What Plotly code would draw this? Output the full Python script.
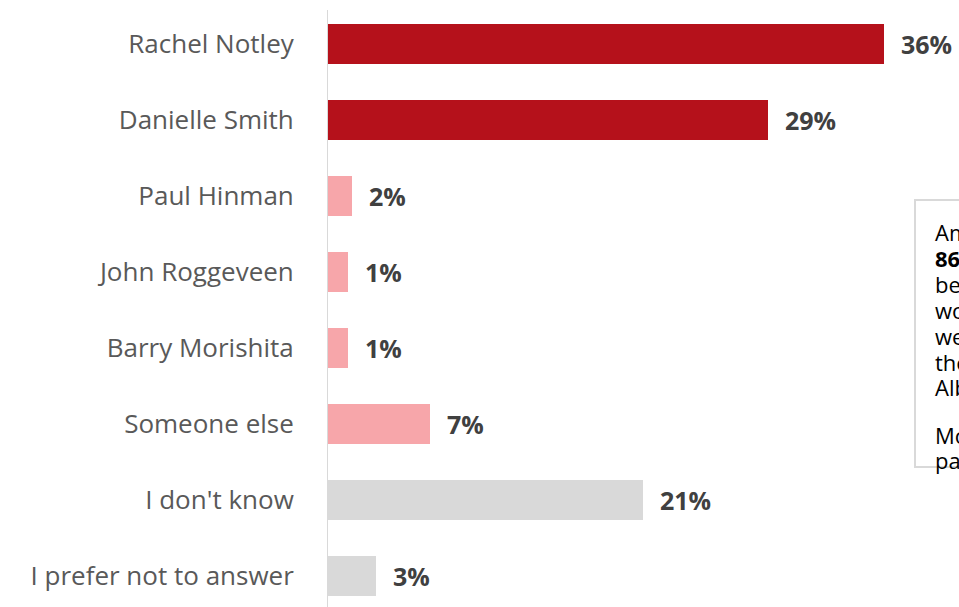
import plotly.graph_objects as go

categories = ["Rachel Notley", "Danielle Smith", "Paul Hinman", "John Roggeveen",
              "Barry Morishita", "Someone else", "I don't know", "I prefer not to answer"]
values = [36.3, 28.7, 1.6, 1.4, 1.4, 6.7, 20.6, 3.2]
labels = ["36%", "29%", "2%", "1%", "1%", "7%", "21%", "3%"]
colors = ["#B5111B", "#B5111B", "#F7A6AA", "#F7A6AA", "#F7A6AA", "#F7A6AA", "#D9D9D9", "#D9D9D9"]

note_lines = ["Among decided voters,", "<b>86%</b> say they", "believe the choice", "would be between",
              "well-known leaders of", "the two main parties in", "Alberta.", "",
              "Most respondents", "pay close attention."]
note_line_y = [232, 258, 284, 310, 336, 362, 387, 411, 435, 460]

W, H = 959, 607
ML, MR, MT, MB = 327, 0, 10, 0
pw, ph = W - ML - MR, H - MT - MB
px_per_unit = 15.35

fig = go.Figure()
fig.add_trace(go.Bar(
    x=values, y=list(range(len(categories))), orientation="h",
    marker=dict(color=colors, line=dict(width=0)),
    width=0.53, hoverinfo="skip",
))

for i, (v, lab) in enumerate(zip(values, labels)):
    fig.add_annotation(x=v, y=i, xref="x", yref="y", text=f"<b>{lab}</b>",
                       showarrow=False, xanchor="left", yanchor="middle", xshift=15,
                       font=dict(family="Open Sans", size=25, color="#404040"))


def px_x(p):
    return (p - ML) / pw


def px_y(p):
    return (H - MB - p) / ph


# note box (cut at right edge)
fig.add_shape(type="rect", xref="paper", yref="paper",
              x0=px_x(915), x1=px_x(1200), y0=px_y(467), y1=px_y(200),
              line=dict(color="#D9D9D9", width=2), fillcolor="rgba(0,0,0,0)")
for line, ly in zip(note_lines, note_line_y):
    if not line:
        continue
    fig.add_annotation(xref="paper", yref="paper", x=px_x(933), y=px_y(ly),
                       xanchor="left", yanchor="middle", align="left", showarrow=False,
                       text=line, font=dict(family="Open Sans", size=22, color="#000000"))

y0_top = -34 / 76
y_bot = 7 + 31 / 76
fig.update_layout(
    width=W, height=H,
    margin=dict(l=ML, r=MR, t=MT, b=MB),
    paper_bgcolor="white", plot_bgcolor="white",
    showlegend=False,
    bargap=0,
    xaxis=dict(range=[0, pw / px_per_unit], visible=False, fixedrange=True),
    yaxis=dict(range=[y_bot, y0_top], tickmode="array",
               tickvals=list(range(len(categories))), ticktext=categories,
               showgrid=False, zeroline=False,
               showline=False, ticks="outside", ticklen=27, tickcolor="rgba(0,0,0,0)",
               tickfont=dict(family="Open Sans", size=26, color="#595959"),
               fixedrange=True),
)
fig.add_shape(type="line", xref="x", yref="paper", x0=0, x1=0, y0=0, y1=1,
              line=dict(color="#D9D9D9", width=2), layer="above")

fig.write_html("out.html", config={"displayModeBar": False},
               post_script="document.body.style.margin='0';document.body.style.overflow='hidden';")
